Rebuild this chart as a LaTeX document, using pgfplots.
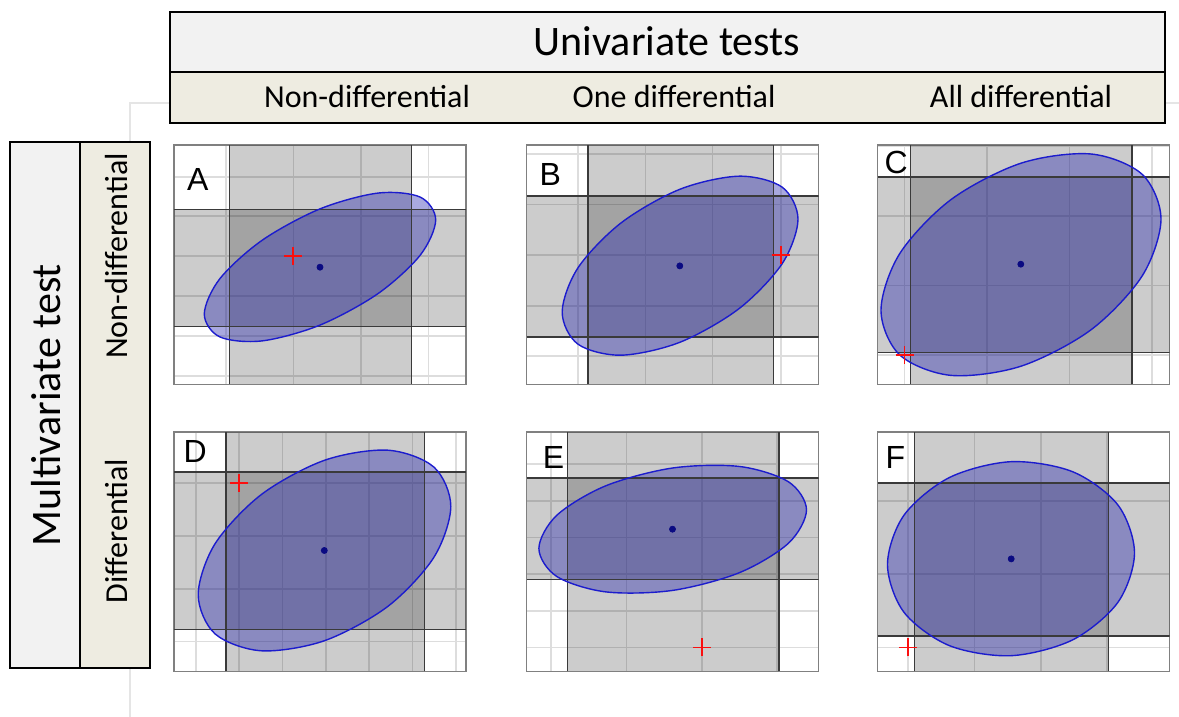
\documentclass[border=0pt]{standalone}
\usepackage{fontspec}
\setmainfont{Carlito}
\newfontfamily\arialfont{Liberation Sans}
\usepackage{pgfplots}
\pgfplotsset{compat=1.18}
\usepackage{pgfplotstable}

\definecolor{hdrgray}{HTML}{F2F2F2}
\definecolor{hdrbeige}{HTML}{EEECE1}
\definecolor{gridcol}{HTML}{DDDDDD}
\definecolor{framecol}{HTML}{808080}
\definecolor{edgecol}{HTML}{3A3A3A}
\definecolor{ellfill}{RGB}{40,40,175}
\definecolor{ellline}{RGB}{28,28,205}
\definecolor{dotcol}{RGB}{10,10,130}
\definecolor{crosscol}{RGB}{250,15,15}

% ellipse outlines (panel pixel units, y up)
\pgfplotstableread{
x y
261.7 164.6
246.2 187.4
203.9 191.4
146.0 175.6
88.1 144.2
45.8 105.7
30.3 70.4
45.8 47.6
88.1 43.6
146.0 59.4
203.9 90.8
246.2 129.3
}\ellA
\pgfplotstableread{
x y
271.5 165.3
255.7 197.3
212.6 208.3
153.6 195.3
94.7 161.7
51.5 116.7
35.7 72.3
51.5 40.3
94.7 29.3
153.6 42.3
212.6 75.9
255.7 120.9
}\ellB
\pgfplotstableread{
x y
283.5 165.4
264.7 210.1
213.5 230.5
143.5 221.3
73.5 184.9
22.3 131.0
3.5 74.2
22.3 29.5
73.5 9.1
143.5 18.3
213.5 54.7
264.7 108.6
}\ellC
\pgfplotstableread{
x y
276.8 165.2
259.9 204.4
213.7 221.3
150.5 211.2
87.4 177.0
41.1 127.8
24.2 76.8
41.1 37.6
87.4 20.7
150.5 30.8
213.7 65.0
259.9 114.2
}\ellD
\pgfplotstableread{
x y
280.0 161.6
262.1 189.6
213.1 205.0
146.2 203.5
79.3 185.7
30.3 156.2
12.4 123.0
30.3 95.0
79.3 79.6
146.2 81.1
213.1 98.9
262.1 128.4
}\ellE
\pgfplotstableread{
x y
257.0 118.6
240.5 166.4
195.3 199.7
133.5 209.8
71.8 193.9
26.5 156.3
10.0 107.0
26.5 59.2
71.8 25.9
133.5 15.8
195.3 31.7
240.5 69.3
}\ellF

\pgfplotsset{
  panel/.style={anchor=south west, scale only axis, width=146pt, height=119.75pt,
    xmin=0, xmax=292, ymin=0, ymax=239.5,
    axis line style={draw=framecol, line width=0.6pt},
    xticklabels={}, yticklabels={},
    ticklabel style={opacity=0, text opacity=0, font=\tiny},
    major tick length=0pt, tick style={draw=none},
    xmajorgrids, ymajorgrids, grid style={draw=gridcol, line width=0.8pt},
    axis background/.style={fill=white}},
  band/.style={draw=none, fill=black, fill opacity=0.2, forget plot},
  bedge/.style={draw=edgecol, line width=0.7pt, forget plot},
  ellF/.style={draw=none, fill=ellfill, fill opacity=0.4, smooth cycle, tension=0.53, forget plot},
  ellL/.style={draw=ellline, line width=0.7pt, smooth cycle, tension=0.53, forget plot},
  ctr/.style={only marks, mark=*, mark size=1.5pt, color=dotcol, forget plot},
  crs/.style={draw=crosscol, line width=0.9pt, forget plot},
}
\newcommand\bandfill[4]{%
  \addplot[band] coordinates {(#1,0) (#2,0) (#2,239.5) (#1,239.5)};
  \addplot[band] coordinates {(0,#3) (292,#3) (292,#4) (0,#4)};
}
\newcommand\bandedge[4]{%
  \addplot[bedge] coordinates {(#1,0) (#1,239.5)};
  \addplot[bedge] coordinates {(#2,0) (#2,239.5)};
  \addplot[bedge] coordinates {(0,#3) (292,#3)};
  \addplot[bedge] coordinates {(0,#4) (292,#4)};
}
\newcommand\plab[3]{\node[anchor=base west, inner sep=0pt, font=\arialfont\fontsize{16}{16}\selectfont] at (axis cs:#1,#2) {#3};}

\begin{document}
\begin{tikzpicture}[x=0.5pt, y=0.5pt]
\useasboundingbox (0,0) rectangle (1179,717);
% faint slide frame lines
\draw[black!10, line width=0.6pt] (130,0) -- (130,614) -- (170,614);
\draw[black!10, line width=0.6pt] (1165,614) -- (1179,614);

% header
\filldraw[fill=hdrgray, draw=black, line width=0.8pt] (170,645) rectangle (1165,705);
\filldraw[fill=hdrbeige, draw=black, line width=0.8pt] (170,594) rectangle (1165,645);
\node[anchor=base, inner sep=0pt, font=\fontsize{21}{24}\selectfont] at (667,661) {Univariate tests};
\node[anchor=base, inner sep=0pt, font=\fontsize{16}{19}\selectfont] at (367,609) {Non-differential};
\node[anchor=base, inner sep=0pt, font=\fontsize{16}{19}\selectfont] at (674,609) {One differential};
\node[anchor=base, inner sep=0pt, font=\fontsize{16}{19}\selectfont] at (1021,609) {All differential};

% left header
\filldraw[fill=hdrgray, draw=black, line width=0.8pt] (10,49) rectangle (80,575);
\filldraw[fill=hdrbeige, draw=black, line width=0.8pt] (80,49) rectangle (150,575);
\node[anchor=base, rotate=90, inner sep=0pt, font=\fontsize{21}{24}\selectfont] at (60,312) {Multivariate test};
\node[anchor=base, rotate=90, inner sep=0pt, font=\fontsize{16}{19}\selectfont] at (127,461) {Non-differential};
\node[anchor=base, rotate=90, inner sep=0pt, font=\fontsize{16}{19}\selectfont] at (127,186) {Differential};

% Panel A
\begin{axis}[panel, at={(87pt,166.25pt)},
  xtick={52,119.3,186.7,254.3}, ytick={8.3,48.3,88.3,128.3,168.3,207.7}]
\bandfill{55.3}{237.7}{57.7}{175}
\addplot[ellF] table {\ellA};
\bandedge{55.3}{237.7}{57.7}{175}
\addplot[ellL] table {\ellA};
\addplot[ctr] coordinates {(146,117.3)};
\addplot[crs] coordinates {(110.3,128.3) (128.3,128.3)};
\addplot[crs] coordinates {(119.3,119.3) (119.3,137.3)};
\plab{12.7}{194.3}{A}
\end{axis}

% Panel B
\begin{axis}[panel, at={(263.25pt,166.25pt)},
  xtick={51.7,119,186,254.3}, ytick={28.6,78.6,129.5,180,230.3}]
\bandfill{61.3}{246.7}{47.6}{188.6}
\addplot[ellF] table {\ellB};
\bandedge{61.3}{246.7}{47.6}{188.6}
\addplot[ellL] table {\ellB};
\addplot[ctr] coordinates {(153.3,118.6)};
\addplot[crs] coordinates {(245.3,129.5) (263.3,129.5)};
\addplot[crs] coordinates {(254.3,120.5) (254.3,138.5)};
\plab{12.7}{198.6}{B}
\end{axis}

% Panel C
\begin{axis}[panel, at={(438.75pt,166.25pt)},
  xtick={27,109.3,192,274.3}, ytick={29.3,98.8,168.3,237.8}]
\bandfill{32.7}{254.3}{32}{207.6}
\addplot[ellF] table {\ellC};
\bandedge{32.7}{254.3}{32}{207.6}
\addplot[ellL] table {\ellC};
\addplot[ctr] coordinates {(143.3,120.3)};
\addplot[crs] coordinates {(18,29.3) (36,29.3)};
\addplot[crs] coordinates {(27,20.3) (27,38.3)};
\plab{6.7}{211}{C}
\end{axis}

% Panel D
\begin{axis}[panel, at={(87pt,22.75pt)},
  xtick={22,65,108.3,151.7,195,238.3,281.7}, ytick={30,82.6,135.6,188.3}]
\bandfill{52}{250.3}{41.7}{199.3}
\addplot[ellF] table {\ellD};
\bandedge{52}{250.3}{41.7}{199.3}
\addplot[ellL] table {\ellD};
\addplot[ctr] coordinates {(150.3,121)};
\addplot[crs] coordinates {(56,188.3) (74,188.3)};
\addplot[crs] coordinates {(65,179.3) (65,197.3)};
\plab{9.3}{209.3}{D}
\end{axis}

% Panel E
\begin{axis}[panel, at={(263.25pt,22.75pt)},
  xtick={24.7,100,175.3,250.6}, ytick={24,60.6,97.3,134,170.6,207.6}]
\bandfill{41}{252.3}{91.7}{193.3}
\addplot[ellF] table {\ellE};
\bandedge{41}{252.3}{91.7}{193.3}
\addplot[ellL] table {\ellE};
\addplot[ctr] coordinates {(146,142.3)};
\addplot[crs] coordinates {(166.3,24) (184.3,24)};
\addplot[crs] coordinates {(175.3,15) (175.3,33)};
\plab{16}{203.3}{E}
\end{axis}

% Panel F
\begin{axis}[panel, at={(438.75pt,22.75pt)},
  xtick={30.3,97,163.3,229.3}, ytick={24,97.6,170.6}]
\bandfill{37}{231}{35.6}{188.3}
\addplot[ellF] table {\ellF};
\bandedge{37}{231}{35.6}{188.3}
\addplot[ellL] table {\ellF};
\addplot[ctr] coordinates {(133.7,112.6)};
\addplot[crs] coordinates {(21.3,24) (39.3,24)};
\addplot[crs] coordinates {(30.3,15) (30.3,33)};
\plab{7.7}{203.3}{F}
\end{axis}
\end{tikzpicture}
\end{document}
